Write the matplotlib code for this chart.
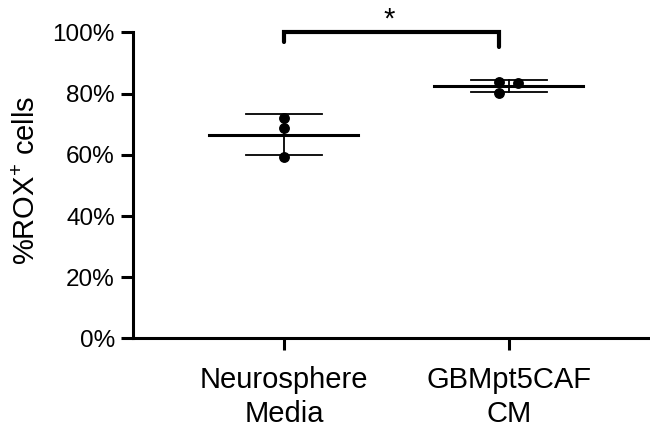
import numpy as np
import matplotlib
matplotlib.use('Agg')
import matplotlib.pyplot as plt
from matplotlib.transforms import ScaledTranslation

#%% data
groups = ['Neurosphere\nMedia', 'GBMpt5CAF\nCM']
neuro_vals = [71.9, 68.7, 59.2]
caf_vals = [83.7, 80.3, 83.4]
yticks = [0, 20, 40, 60, 80, 100]
star = '*'

#%% style
plt.rcParams['font.family'] = ['Liberation Sans', 'DejaVu Sans']
plt.rcParams['mathtext.default'] = 'regular'

fig = plt.figure(figsize=(6.5, 4.3), dpi=100)
ax = fig.add_axes([0.2046, 0.2128, 0.7954, 0.7121])

# little sideways shift of the dots, like prism does
jitter = [[0, 0, 0], [-0.044, -0.044, 0.04]]

for i, vals in enumerate([neuro_vals, caf_vals]):
    vals = np.array(vals)
    m = vals.mean()
    sd = vals.std(ddof=1)
    ax.plot([i - 0.331, i + 0.331], [m, m], color='black', lw=2.2, zorder=2)
    ax.plot([i - 0.169, i + 0.169], [m + sd, m + sd], color='black', lw=1.3, zorder=2)
    ax.plot([i - 0.169, i + 0.169], [m - sd, m - sd], color='black', lw=1.3, zorder=2)
    ax.plot([i, i], [m - sd, m + sd], color='black', lw=1.3, zorder=2)
    ax.plot(i + np.array(jitter[i]), vals, 'o', color='black', ms=6.8, zorder=3)

# significance bracket
ax.plot([0, 0, 0.956, 0.956], [96.9, 100, 100, 95.3], color='black', lw=3,
        solid_capstyle='round', solid_joinstyle='miter', clip_on=False)
ax.text(0.467, 101.5, star, ha='center', va='baseline', fontsize=21)

ax.set_xlim(-0.671, 1.627)
ax.set_ylim(0, 100)
ax.set_yticks(yticks)
ax.set_yticklabels(['{}%'.format(t) for t in yticks], fontsize=17.5)
ax.set_xticks([0, 1])
ax.set_xticklabels(groups, fontsize=21, linespacing=1.3)
for lab in ax.get_xticklabels():
    lab.set_transform(lab.get_transform() + ScaledTranslation(-0.07, 0, fig.dpi_scale_trans))

for s in ['top', 'right']:
    ax.spines[s].set_visible(False)
for s in ['left', 'bottom']:
    ax.spines[s].set_linewidth(2.2)
ax.tick_params(axis='both', width=2.2, length=8.5, color='black')
ax.tick_params(axis='y', pad=4.5)
ax.tick_params(axis='x', pad=11)

fig.text(26.7 / 650, 1 - 180.5 / 430, '%ROX$^{+}$ cells', rotation=90,
         ha='center', va='center', fontsize=21)

fig.savefig('out.png', dpi=100)
